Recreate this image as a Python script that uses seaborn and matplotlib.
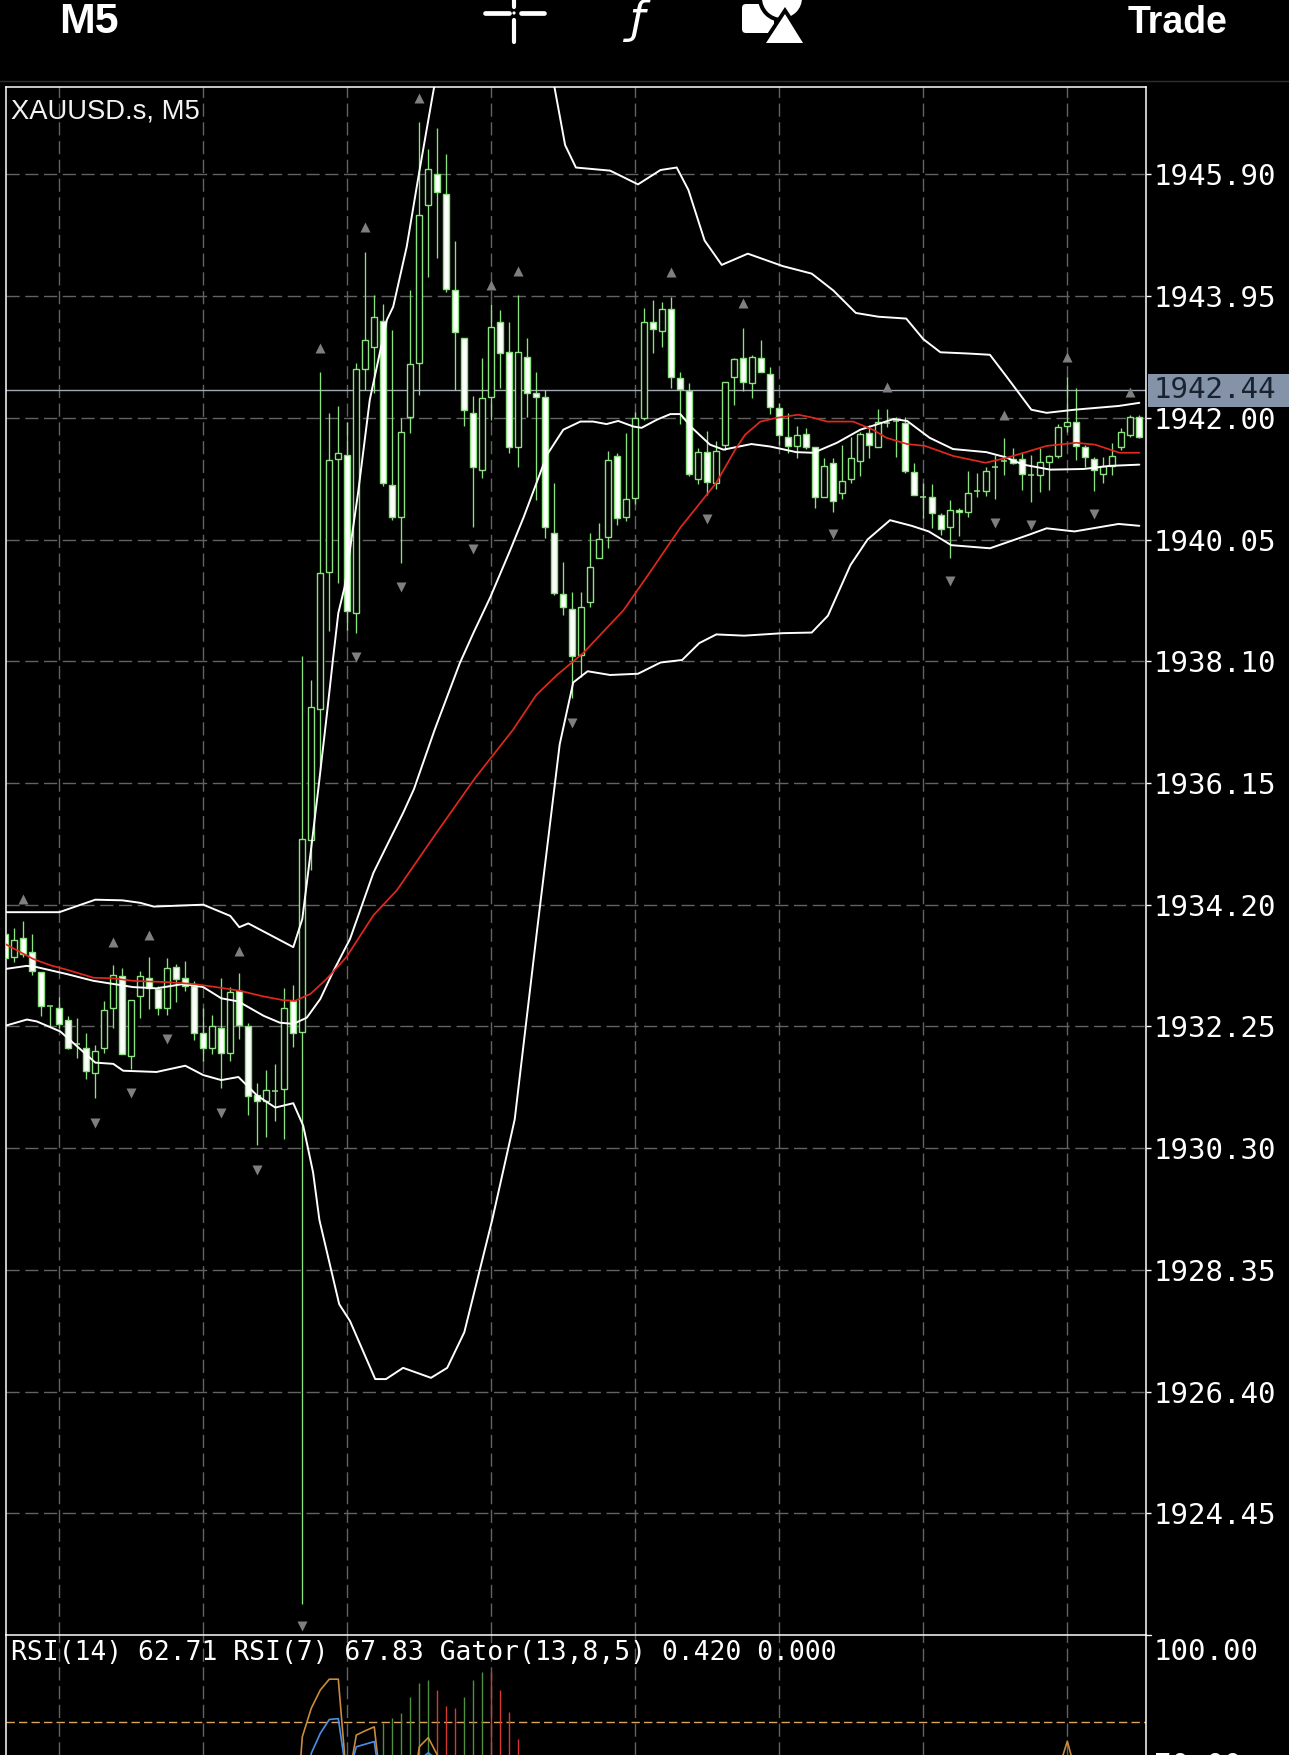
import numpy as np
import pandas as pd
import matplotlib
matplotlib.use("Agg")
import matplotlib.pyplot as plt
from matplotlib.patches import Rectangle, Circle, Polygon, FancyBboxPatch
import seaborn as sns

# ---------- data ----------
open_ = [1933.73,1933.36,1933.66,1933.44,1933.12,1932.58,1932.55,1932.35,1931.97,1931.91,
         1931.51,1931.90,1932.54,1933.06,1931.78,1932.73,1933.03,1932.85,1932.55,1933.20,
         1933.02,1932.90,1932.14,1931.91,1932.23,1931.82,1932.81,1932.26,1931.15,1931.06,
         1931.22,1931.25,1932.65,1932.16,1935.24,1937.34,1939.53,1941.34,1941.41,1938.87,
         1942.79,1943.14,1943.55,1940.93,1940.41,1942.02,1942.88,1945.41,1945.91,1945.59,
         1944.05,1943.28,1942.08,1941.17,1942.34,1943.54,1943.06,1941.54,1942.98,1942.40,
         1942.34,1940.16,1939.18,1938.94,1938.20,1939.05,1939.76,1940.09,1941.39,1940.41,
         1940.72,1942.00,1943.54,1943.39,1943.75,1942.63,1942.43,1941.02,1941.45,1940.96,
         1941.57,1942.66,1942.96,1942.56,1942.96,1942.71,1942.16,1941.70,1941.55,1941.74,
         1941.54,1940.73,1941.28,1940.80,1941.02,1941.31,1941.76,1941.54,1941.92,1941.95,
         1941.92,1941.13,1940.73,1940.73,1940.45,1940.25,1940.53,1940.49,1940.83,1940.83,
         1941.21,1941.31,1941.34,1941.34,1941.09,1941.09,1941.29,1941.39,1941.87,1941.94,
         1941.54,1941.34,1941.10,1941.23,1941.54,1941.73,1942.02]
close = [1933.34,1933.64,1933.41,1933.13,1932.58,1932.58,1932.29,1931.90,1931.97,1931.53,
         1931.86,1932.52,1933.08,1931.80,1932.68,1933.05,1932.86,1932.54,1933.19,1933.01,
         1932.90,1932.14,1931.91,1932.25,1931.82,1932.80,1932.27,1931.13,1931.06,1931.23,
         1931.22,1932.55,1932.15,1935.25,1937.37,1939.52,1941.33,1941.44,1938.91,1942.79,
         1943.25,1943.62,1940.96,1940.41,1941.78,1942.87,1945.25,1945.99,1945.61,1944.07,
         1943.38,1942.13,1941.21,1942.32,1943.46,1943.04,1941.54,1943.06,1942.40,1942.34,
         1940.25,1939.19,1938.97,1938.18,1938.97,1939.61,1940.06,1941.33,1940.40,1940.70,
         1942.00,1943.54,1943.43,1943.75,1942.66,1942.46,1941.10,1941.45,1940.97,1941.47,
         1942.58,1942.95,1942.58,1942.98,1942.74,1942.18,1941.73,1941.55,1941.73,1941.54,
         1940.73,1941.23,1940.67,1940.99,1941.36,1941.74,1941.57,1941.94,1941.92,1941.95,
         1941.15,1940.77,1940.73,1940.48,1940.22,1940.53,1940.49,1940.80,1940.83,1941.15,
         1941.21,1941.31,1941.28,1941.10,1941.09,1941.29,1941.39,1941.86,1941.94,1941.55,
         1941.37,1941.17,1941.23,1941.39,1941.78,1942.02,1941.70]
high = [1933.73,1933.82,1933.94,1933.73,1933.12,1932.58,1932.72,1932.41,1932.39,1932.15,
        1931.95,1932.66,1933.23,1933.18,1932.68,1933.13,1933.37,1932.90,1933.34,1933.25,
        1933.29,1932.98,1932.55,1932.43,1933.03,1932.88,1933.10,1932.31,1931.34,1931.55,
        1931.65,1932.87,1932.91,1938.18,1937.80,1942.74,1942.08,1942.19,1941.94,1942.88,
        1944.66,1943.97,1943.83,1943.41,1942.00,1944.04,1946.74,1946.30,1946.65,1946.22,
        1944.84,1943.28,1942.35,1942.96,1943.83,1943.73,1943.54,1943.97,1943.28,1942.74,
        1942.45,1940.96,1939.69,1939.21,1939.21,1940.16,1940.32,1941.47,1941.44,1941.76,
        1942.10,1943.76,1943.89,1943.86,1943.94,1942.74,1942.55,1941.52,1941.79,1941.63,
        1942.58,1942.96,1943.44,1943.01,1943.25,1942.82,1942.24,1942.08,1941.87,1941.84,
        1941.54,1941.36,1941.36,1941.57,1941.70,1941.78,1941.89,1942.14,1942.14,1942.02,
        1942.02,1941.28,1940.96,1940.94,1940.48,1940.69,1940.56,1941.15,1941.12,1941.21,
        1941.41,1941.68,1941.52,1941.45,1941.41,1941.52,1941.41,1941.90,1942.66,1942.48,
        1941.57,1941.37,1941.37,1941.60,1941.84,1942.05,1942.05]
low = [1933.34,1933.28,1933.37,1933.08,1932.41,1932.26,1932.23,1931.89,1931.74,1931.40,
       1931.10,1931.83,1932.22,1931.80,1931.57,1932.38,1932.53,1932.43,1932.43,1932.64,
       1932.81,1932.03,1931.70,1931.81,1931.26,1931.70,1932.05,1930.83,1930.35,1930.48,
       1930.74,1930.45,1931.92,1923.00,1934.75,1936.36,1938.59,1939.36,1938.60,1938.55,
       1942.45,1942.40,1940.91,1940.36,1939.68,1941.76,1942.37,1944.26,1944.56,1944.02,
       1942.45,1941.87,1940.25,1941.04,1941.97,1942.48,1941.44,1941.21,1942.02,1940.69,
       1940.08,1939.16,1938.84,1937.51,1937.85,1938.97,1939.76,1939.92,1940.28,1940.35,
       1940.62,1941.97,1943.04,1943.14,1942.48,1941.90,1941.07,1940.94,1940.77,1940.86,
       1941.49,1942.21,1942.43,1942.32,1942.74,1942.06,1941.57,1941.44,1941.36,1941.50,
       1940.56,1940.73,1940.49,1940.70,1940.96,1941.07,1941.36,1941.54,1941.86,1941.37,
       1941.12,1940.77,1940.40,1940.24,1940.12,1939.76,1940.11,1940.41,1940.73,1940.75,
       1940.70,1941.09,1941.26,1940.85,1940.65,1940.81,1940.85,1941.36,1941.78,1941.33,
       1941.21,1940.83,1940.96,1941.09,1941.49,1941.70,1941.68]

upper_x = [0,6,10,13,15,16.5,22,25,26,27,32,33,34,34.8,35.7,36.4,37,37.7,39.2,40.5,42.4,43.1,44.6,45.9,47.4,48,50,54,58,61,
           62.2,63.4,67.2,70.3,72.8,74.6,75.9,77.7,79.6,82.5,86.4,89.6,92,94.5,97,100.1,102,103.9,107,109.4,111.3,114,115.7,118.8,123.7,126]
upper_y = [1934.08,1934.08,1934.28,1934.27,1934.23,1934.17,1934.20,1934.02,1933.84,1933.90,1933.52,1933.97,1935.12,1936.08,1937.21,1938.12,1938.87,1939.29,1940.80,1942.29,1943.57,1943.78,1944.74,1945.86,1947.10,1947.58,1948.06,1948.38,1948.06,1947.31,
           1946.37,1946.01,1945.96,1945.74,1945.97,1946.01,1945.65,1944.84,1944.45,1944.63,1944.43,1944.31,1944.04,1943.68,1943.62,1943.59,1943.26,1943.05,1943.03,1943.01,1942.65,1942.13,1942.08,1942.13,1942.19,1942.24]
mid_x = [0,2.4,3.5,6.8,9.8,12,14.2,16.8,19.8,22,24,25.9,28.7,30.5,32,33.5,35,36.4,38.3,40.9,42.3,44.2,45.4,47.7,50.5,52,53.9,56.1,57.6,60.2,62,63.9,65.3,66.8,68.1,69.8,
         70.7,72.4,73.9,75,76.3,78.3,79.8,82.9,85,87.9,89.8,92.4,95,98.7,100.2,102.7,105.3,109,111.1,113.1,116.1,119.8,122.7,126]
mid_y = [1933.17,1933.22,1933.20,1933.09,1932.98,1932.93,1932.88,1932.86,1932.93,1932.88,1932.70,1932.65,1932.42,1932.31,1932.29,1932.39,1932.69,1933.12,1933.65,1934.71,1935.12,1935.67,1936.05,1937.00,1938.07,1938.55,1939.13,1939.88,1940.41,1941.41,1941.81,1941.94,1941.94,1941.90,1941.95,1941.86,
         1941.84,1941.97,1942.06,1942.06,1941.84,1941.57,1941.49,1941.58,1941.54,1941.45,1941.44,1941.60,1941.81,1941.98,1941.95,1941.68,1941.50,1941.45,1941.37,1941.25,1941.17,1941.18,1941.23,1941.25]
lower_x = [0,2.4,3.5,6.1,8.3,10,12,13.1,16.8,20,22,24,25.9,28,30,32,33.1,34.2,34.9,37.1,38.3,41.1,42.3,44.2,47.3,49.1,51,54.1,56.6,59.1,61.6,63.1,64.7,67.2,70.3,72.8,75.2,77.1,79,82.1,86.4,89.6,91.4,93.9,95.8,98.3,100.7,102.6,105.1,109.4,113.8,115.7,118.8,123.7,126]
lower_y = [1932.26,1932.36,1932.33,1932.17,1931.89,1931.67,1931.65,1931.54,1931.52,1931.62,1931.47,1931.39,1931.44,1931.14,1930.95,1931.02,1930.66,1929.91,1929.15,1927.80,1927.53,1926.60,1926.60,1926.78,1926.62,1926.78,1927.35,1929.15,1930.76,1933.81,1936.77,1937.76,1937.94,1937.88,1937.90,1938.08,1938.12,1938.39,1938.53,1938.51,1938.55,1938.56,1938.83,1939.64,1940.05,1940.36,1940.27,1940.18,1939.96,1939.91,1940.13,1940.23,1940.18,1940.30,1940.27]
ma_x = [0,3.1,5,6.8,9.8,12,14.2,17.9,20.9,23.9,26.1,28.7,30.9,32.2,33.9,35.7,37.9,40.9,43.5,47.9,52.2,56.4,59,61.3,64.2,68.7,71.6,75,79,81.1,82.2,83.9,85.7,88.1,89.8,91.3,94.2,96.4,97.9,100.2,102.2,105.3,108.9,111.3,115.7,119,121.1,123.8,126]
ma_y = [1933.57,1933.33,1933.23,1933.16,1933.03,1933.02,1932.98,1932.96,1932.93,1932.87,1932.82,1932.73,1932.67,1932.66,1932.77,1933.01,1933.36,1934.03,1934.43,1935.35,1936.23,1937.00,1937.56,1937.88,1938.23,1938.92,1939.52,1940.24,1940.96,1941.49,1941.73,1941.94,1942.00,1942.05,1942.00,1941.94,1941.94,1941.81,1941.68,1941.58,1941.55,1941.39,1941.28,1941.36,1941.55,1941.60,1941.57,1941.44,1941.44]

frac_up_x = [2,12,16,26,35,40,46,54,57,74,82,98,111,118,125]
frac_up_y = [1934.29,1933.60,1933.71,1933.46,1943.12,1945.05,1947.13,1944.12,1944.36,1944.34,1943.84,1942.50,1942.05,1942.98,1942.42]
frac_dn_x = [10,14,18,24,28,33,39,44,52,63,78,92,105,110,114,121]
frac_dn_y = [1930.71,1931.18,1932.05,1930.87,1929.95,1922.64,1938.17,1939.29,1939.90,1937.11,1940.38,1940.14,1939.39,1940.32,1940.28,1940.46]

price_ticks = [1945.90,1943.95,1942.00,1940.05,1938.10,1936.15,1934.20,1932.25,1930.30,1928.35,1926.40,1924.45]
time_ticks = [6,22,38,54,70,86,102,118]
current_price = 1942.44

rsi7_x = [31,32,33,34,35,36,37,38,39,40,41,42,44,45,46,47,48,49,60,117,118,119,126]
rsi7_y = [45,48,76.5,83.1,87.3,89.8,89.8,64.9,76.9,77.9,78.8,60,58,60.3,74.2,76.3,72.3,60,55,68.8,75.5,67.7,60]
rsi14_x = [32,33,34,35,36,37,38,39,40,41,42,45,46,47,48,49,126]
rsi14_y = [50,60,72.7,77.3,80.5,80.7,66.5,74.2,74.8,75.4,60.3,60,71.1,72.8,71.1,60,58]
gator_up_x = [42,43,44,45,46,47,51,52,53]
gator_up_y = [79.6,80.8,82.0,85.8,88.9,89.6,85.8,89.6,91.4]
gator_dn_x = [48,49,50,54,55,56,57]
gator_dn_y = [87.3,83.5,83.1,91.4,87.3,82.3,76.0]
rsi_level = 80

# ---------- figure ----------
W, H = 1289, 1755
L, R, T, M = 6, 1146, 87, 1635
sns.set_theme(style="dark", rc={"axes.facecolor": "black", "figure.facecolor": "black"})
MONO = ["DejaVu Sans Mono"]
SANS = ["Liberation Sans", "DejaVu Sans"]
fig = plt.figure(figsize=(W / 100, H / 100), dpi=100, facecolor="black")
ax = fig.add_axes([L / W, (H - M) / H, (R - L) / W, (M - T) / H], facecolor="black")
ax2 = fig.add_axes([L / W, 0, (R - L) / W, (H - M) / H], facecolor="black")
ov = fig.add_axes([0, 0, 1, 1], facecolor="none", zorder=10)
ov.set_xlim(0, W); ov.set_ylim(H, 0); ov.axis("off")

XLIM = (0.08, 126.74)
GRID = dict(color="#626262", lw=1.0, ls=(0, (9.5, 4)))

# candles
idx = np.arange(len(open_))
o, c, h, l = map(np.array, (open_, close, high, low))
GREEN = "#8be37f"
ax.vlines(idx, l, h, color=GREEN, lw=0.95, zorder=3)
top, bot = np.maximum(o, c), np.minimum(o, c)
up = c > o
dn = c < o
dj = c == o
ax.bar(idx[up], (top - bot)[up], bottom=bot[up], width=0.66, facecolor="black", edgecolor=GREEN, lw=1.0, zorder=4)
ax.bar(idx[dn], (top - bot)[dn], bottom=bot[dn], width=0.66, facecolor="white", edgecolor=GREEN, lw=1.0, zorder=4)
ax.hlines(c[dj], idx[dj] - 0.33, idx[dj] + 0.33, color=GREEN, lw=1.1, zorder=4)

# bands and moving average
for xs, ys, col, lw in [(upper_x, upper_y, "white", 1.4), (mid_x, mid_y, "white", 1.4),
                        (lower_x, lower_y, "white", 1.4), (ma_x, ma_y, "#e0281e", 1.25)]:
    sns.lineplot(x=xs, y=ys, ax=ax, color=col, lw=lw, estimator=None, sort=False, zorder=6)

# fractals
sns.scatterplot(x=frac_up_x, y=frac_up_y, ax=ax, marker="^", s=52, color="#7f7f7f", linewidth=0, zorder=7)
sns.scatterplot(x=frac_dn_x, y=frac_dn_y, ax=ax, marker="v", s=52, color="#7f7f7f", linewidth=0, zorder=7)

ax.axhline(current_price, color="#a2a8b3", lw=1.0, zorder=2.5)
ax.set_xlim(*XLIM)
ax.set_ylim(1922.50, 1947.30)
ax.set_xticks(time_ticks); ax.set_xticklabels([])
ax.set_yticks(price_ticks)
ax.set_yticklabels([f"{v:.2f}" for v in price_ticks], family=MONO, fontsize=21, color="white")
ax.yaxis.tick_right()
ax.tick_params(axis="y", length=3.6, width=1, color="white", pad=2.2, right=True, left=False)
ax.tick_params(axis="x", length=0)
ax.grid(True, axis="both", zorder=1, **GRID)
ax.set_axisbelow(True)
ax.set_xlabel(""); ax.set_ylabel("")
for s in ax.spines.values():
    s.set_color("white"); s.set_linewidth(1.1)
ax.spines["bottom"].set_visible(False)

# lower panel
ax2.vlines(gator_up_x, 0, gator_up_y, color="#4f8f3e", lw=1.0, zorder=3)
ax2.vlines(gator_dn_x, 0, gator_dn_y, color="#d43a2f", lw=1.0, zorder=3)
sns.lineplot(x=rsi7_x, y=rsi7_y, ax=ax2, color="#c98b3c", lw=1.2, estimator=None, sort=False, zorder=5)
sns.lineplot(x=rsi14_x, y=rsi14_y, ax=ax2, color="#4a90e8", lw=1.2, estimator=None, sort=False, zorder=5)
ax2.axhline(rsi_level, color="#dba55e", lw=1.0, ls=(0, (6, 3)), zorder=2)
ax2.set_xlim(*XLIM)
ax2.set_ylim(72.3, 100)
ax2.set_xticks(time_ticks); ax2.set_xticklabels([])
ax2.set_yticks([])
ax2.tick_params(axis="x", length=0)
ax2.grid(True, axis="x", zorder=1, **GRID)
ax2.set_axisbelow(True)
ax2.set_xlabel(""); ax2.set_ylabel("")
for s in ax2.spines.values():
    s.set_color("white"); s.set_linewidth(1.1)
ax2.spines["bottom"].set_visible(False)

# overlay: labels and header
ov.add_patch(Rectangle((1148, 374), 141, 33, facecolor="#8593a8", edgecolor="none"))
ov.text(1154, 390, f"{current_price:.2f}", family=MONO, fontsize=21, color="#182230", va="center", ha="left")
ov.plot([1146, 1151], [1635, 1635], color="white", lw=1)
ov.text(11, 111, "XAUUSD.s, M5", family=SANS, fontsize=19.7, color="#f2f2f2", va="center", ha="left")
ov.text(11, 1653, "RSI(14) 62.71 RSI(7) 67.83 Gator(13,8,5) 0.420 0.000",
        family=MONO, fontsize=19, color="white", va="center", ha="left")
ov.text(1154, 1652, "100.00", family=MONO, fontsize=21, color="white", va="center", ha="left")
ov.text(1154, 1766, "70.00", family=MONO, fontsize=21, color="white", va="center", ha="left", clip_on=False)

ov.text(59, 33, "M5", family=SANS, weight="bold", fontsize=31, color="white", va="baseline", ha="left")
ov.text(1228, 33, "Trade", family=SANS, weight="bold", fontsize=27, color="white", va="baseline", ha="right")
ov.text(638, 33, "\u0192", family=["DejaVu Sans"], style="italic", fontsize=32, color="white", va="baseline", ha="center")
ov.plot([485, 509], [13, 13], color="white", lw=3.4, solid_capstyle="round")
ov.plot([521, 544], [13, 13], color="white", lw=3.4, solid_capstyle="round")
ov.plot([514, 514], [20, 42], color="white", lw=3.0, solid_capstyle="round")
ov.plot([514, 514], [0, 7], color="white", lw=3.0, solid_capstyle="round")
ov.add_patch(Circle((514, 13), 1.6, facecolor="white", edgecolor="none"))
ov.add_patch(FancyBboxPatch((742, 4), 32, 29, boxstyle="round,pad=0,rounding_size=4", facecolor="white", edgecolor="none"))
ov.add_patch(Circle((782, -2), 24, facecolor="black", edgecolor="none"))
ov.add_patch(Circle((782, -2), 20, facecolor="white", edgecolor="none"))
ov.add_patch(Polygon([(785, 7), (812, 48), (758, 48)], facecolor="black", edgecolor="none"))
ov.add_patch(Polygon([(785, 14), (803, 43), (766, 43)], facecolor="white", edgecolor="none"))
ov.add_patch(Rectangle((0, 44), W, 37, facecolor="black", edgecolor="none", zorder=0.5))
ov.plot([0, W], [81, 81], color="#2e2e2e", lw=1.0)

fig.savefig("out.png", dpi=100, facecolor="black")
